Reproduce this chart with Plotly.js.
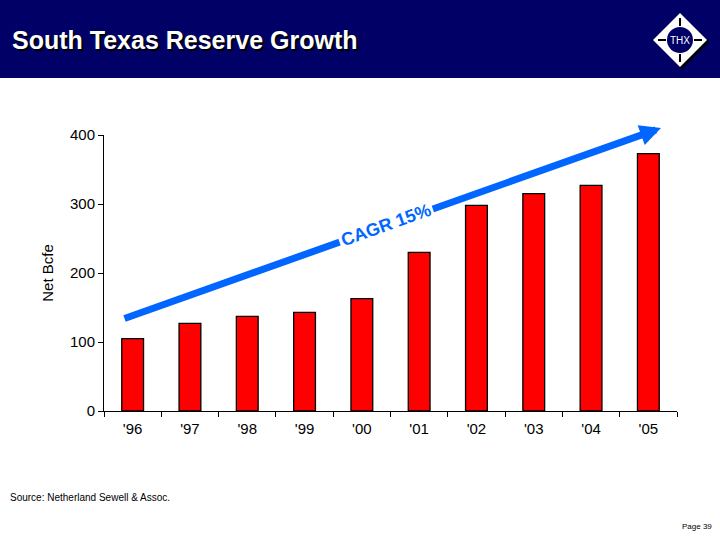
<!DOCTYPE html>
<html>
<head>
<meta charset="utf-8">
<script src="https://cdn.plot.ly/plotly-3.0.1.min.js"></script>
<style>html,body{margin:0;padding:0;background:#fff;}#chart{width:720px;height:540px;}</style>
</head>
<body>
<div id="chart"></div>
<script>
var years = ["'96","'97","'98","'99","'00","'01","'02","'03","'04","'05"];
var netBcfe = [105, 127, 137, 143, 163, 230, 298, 315, 327, 373];
var yTicks = [0, 100, 200, 300, 400];

var W = 720, H = 540;
var mL = 104, mR = 43, mT = 135, mB = 129;
var pw = W - mL - mR, ph = H - mT - mB;
function px(x){ return (x - mL) / pw; }
function py(y){ return (H - mB - y) / ph; }

var trace = {
  type: 'bar', x: years, y: netBcfe,
  marker: {color: '#FF0000', line: {color: '#000000', width: 1.3}},
  width: 0.38, hoverinfo: 'none'
};

// logo geometry (pixels)
var cx = 680, cy = 40, r = 27;
function diamond(ox, oy){
  return 'M ' + px(cx+ox) + ',' + py(cy-r+oy) + ' L ' + px(cx+r+ox) + ',' + py(cy+oy) +
         ' L ' + px(cx+ox) + ',' + py(cy+r+oy) + ' L ' + px(cx-r+ox) + ',' + py(cy+oy) + ' Z';
}

var shapes = [
  {type:'rect', xref:'paper', yref:'paper', x0:px(0), x1:px(720), y0:py(78), y1:py(0), fillcolor:'#000066', line:{width:0}, layer:'below'},
  {type:'path', xref:'paper', yref:'paper', path: diamond(2,2), fillcolor:'#000000', line:{width:0}},
  {type:'path', xref:'paper', yref:'paper', path: diamond(0,0), fillcolor:'#FFFFFF', line:{width:0}},
  {type:'circle', xref:'paper', yref:'paper', x0:px(cx-13), x1:px(cx+13), y0:py(cy+13), y1:py(cy-13), fillcolor:'#000066', line:{width:0}},
  {type:'line', xref:'paper', yref:'paper', x0:px(cx-22), x1:px(cx-14), y0:py(cy), y1:py(cy), line:{color:'#000000', width:2}},
  {type:'line', xref:'paper', yref:'paper', x0:px(cx+14), x1:px(cx+22), y0:py(cy), y1:py(cy), line:{color:'#000000', width:2}},
  {type:'line', xref:'paper', yref:'paper', x0:px(cx), x1:px(cx), y0:py(cy-22), y1:py(cy-14), line:{color:'#000000', width:2}},
  {type:'line', xref:'paper', yref:'paper', x0:px(cx), x1:px(cx), y0:py(cy+14), y1:py(cy+22), line:{color:'#000000', width:2}}
];

var annotations = [
  {xref:'paper', yref:'paper', x:px(10), y:py(40), xanchor:'left', yanchor:'middle', showarrow:false,
   text:'<b>South Texas Reserve Growth</b>',
   font:{family:'Liberation Sans, Arial', size:25, color:'#FFFFFF', shadow:'2px 2px 0px #000000'}},
  {xref:'paper', yref:'paper', x:px(cx), y:py(cy), xanchor:'center', yanchor:'middle', showarrow:false,
   text:'THX', font:{family:'Liberation Sans, Arial', size:10, color:'#FFFFFF'}},
  {xref:'paper', yref:'paper', x:px(661), y:py(128), ax:-538, ay:191, showarrow:true, text:'',
   arrowhead:2, arrowsize:0.6, arrowwidth:7, arrowcolor:'#0066FF', standoff:0},
  {xref:'paper', yref:'paper', x:px(386), y:py(225), xanchor:'center', yanchor:'middle', showarrow:false,
   text:'<b>CAGR 15%</b>', textangle:-19.6, bgcolor:'#FFFFFF', borderpad:2,
   font:{family:'Liberation Sans, Arial', size:18, color:'#0066FF'}},
  {xref:'paper', yref:'paper', x:px(8), y:py(497), xanchor:'left', yanchor:'middle', showarrow:false,
   text:'Source: Netherland Sewell & Assoc.', font:{family:'Liberation Sans, Arial', size:10, color:'#000000'}},
  {xref:'paper', yref:'paper', x:px(714), y:py(526), xanchor:'right', yanchor:'middle', showarrow:false,
   text:'Page 39', font:{family:'Liberation Sans, Arial', size:8, color:'#000000'}}
];

var layout = {
  width: W, height: H,
  margin: {l: mL, r: mR, t: mT, b: mB, pad: 0},
  paper_bgcolor: '#FFFFFF', plot_bgcolor: '#FFFFFF',
  showlegend: false,
  font: {family: 'Liberation Sans, Arial', color: '#000000'},
  xaxis: {
    type: 'category', showgrid: false, zeroline: false,
    showline: true, linecolor: '#000000', linewidth: 1,
    ticks: 'outside', ticklen: 5, tickcolor: '#000000', tickson: 'boundaries',
    tickfont: {size: 15, color: '#000000'}, ticklabelstandoff: 4
  },
  yaxis: {
    range: [0, 400], tickvals: yTicks, showgrid: false, zeroline: false,
    showline: true, linecolor: '#000000', linewidth: 1,
    ticks: 'outside', ticklen: 5, tickcolor: '#000000',
    tickfont: {size: 15, color: '#000000'},
    title: {text: 'Net Bcfe', font: {size: 15, color: '#000000'}, standoff: 12}
  },
  shapes: shapes,
  annotations: annotations
};

Plotly.newPlot('chart', [trace], layout, {displayModeBar: false, staticPlot: true});
</script>
</body>
</html>
